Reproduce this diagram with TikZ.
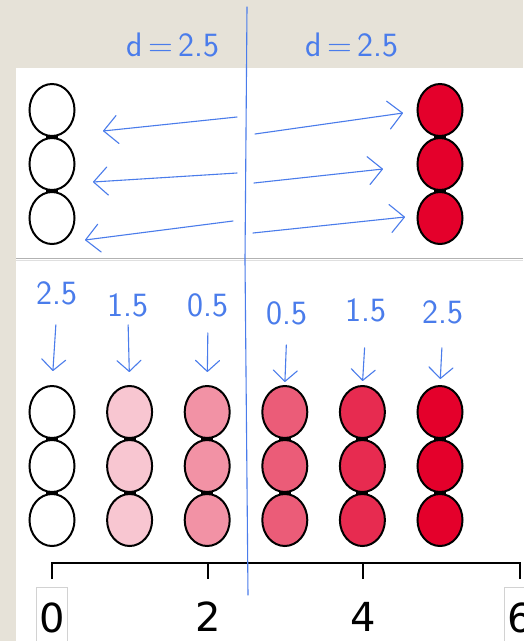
\documentclass[tikz,border=0pt]{standalone}
\usepackage{fontspec}
\setmainfont{DejaVu Sans}
\usepackage{tikz}
\usetikzlibrary{shapes.geometric, arrows.meta, positioning, calc}

\definecolor{paper}{RGB}{230,226,216}
\definecolor{inkblue}{RGB}{74,124,235}
\definecolor{beadA}{RGB}{248,198,209}
\definecolor{beadB}{RGB}{242,146,165}
\definecolor{beadC}{RGB}{235,92,120}
\definecolor{beadD}{RGB}{231,43,80}
\definecolor{beadE}{RGB}{228,0,43}

\tikzset{
  bead/.style={ellipse, draw=black, line width=2pt, minimum width=45pt, minimum height=52pt, inner sep=0pt},
  joint/.style={line width=4pt},
  pen/.style={draw=inkblue, line width=1.1pt, line cap=round, -{Straight Barb[length=14pt,width=28pt,round]}},
  dropcue/.style={pen, -{Straight Barb[length=11pt,width=24pt,round]}},
  note/.style={text=inkblue, inner sep=2pt, font=\sffamily\fontsize{34}{36}\selectfont},
  ticklabel/.style={inner sep=0pt, font=\fontsize{40}{44}\selectfont},
  tickbox/.style={ticklabel, draw=gray!35, line width=1pt, minimum width=31pt, minimum height=60pt, anchor=north}
}

\begin{document}
\begin{tikzpicture}[x=1pt, y=-1pt]
\useasboundingbox (0,0) rectangle (523,641);

% window background
\fill[paper] (0,0) rectangle (523,641);
\fill[white] (16,68) rectangle (523,641);
\draw[gray!60, line width=1.5pt] (16,258.5) -- (523,258.5);
\draw[gray!25, line width=1pt] (16,260.5) -- (523,260.5);

% Top panel: start and end columns
\foreach \r in {1,2,3} {
  \node[bead, fill=white] (s\r) at (52, {56+54*\r}) {};
  \node[bead, fill=beadE] (e\r) at (440, {56+54*\r}) {};
}
\foreach \r in {1,2} {
  \draw[joint] ([xshift=-6pt]s\r.south) -- ([xshift=6pt]s\r.south);
  \draw[joint] ([xshift=-6pt]e\r.south) -- ([xshift=6pt]e\r.south);
}

% Bottom panel: six shades
\foreach \k/\c in {0/white, 1/beadA, 2/beadB, 3/beadC, 4/beadD, 5/beadE} {
  \foreach \r in {1,2,3}
    \node[bead, fill=\c] (b\k\r) at ({52+77.6*\k}, {358+54*\r}) {};
  \foreach \r in {1,2}
    \draw[joint] ([xshift=-6pt]b\k\r.south) -- ([xshift=6pt]b\k\r.south);
}

% axis
\draw[line width=2.5pt] (52,579) -- (52,563) -- (520,563) -- (520,579);
\foreach \x in {208,363}
  \draw[line width=2.5pt] (\x,563) -- (\x,579);
\node[tickbox] (t0) at (52,587) {0};
\node[ticklabel] (t2) at (208,617) {2};
\node[ticklabel] (t4) at (363,617) {4};
\node[tickbox] (t6) at (520,587) {6};

% pen marks
\draw[inkblue, line width=1.1pt, line cap=round] (247,7) -- (245,260) -- (248,595);
\node[note] (dl) at (173,45) {d\,=\,2.5};
\node[note] (dr) at (352,45) {d\,=\,2.5};

\foreach \i/\ax/\ay/\bx/\by in {1/237/117/103/131, 2/237/173/93/182, 3/233/221/85/240,
    4/255/134/403/113, 5/254/183/383/169, 6/253/233/405/217} {
  \coordinate (from\i) at (\ax,\ay);
  \coordinate (to\i) at (\bx,\by);
  \draw[pen] (from\i) -- (to\i);
}

\foreach \k/\x/\y/\v/\sa/\sb in {0/57/293/2.5/18/14, 1/128/305/1.5/6/13, 2/208/305/0.5/14/13,
    3/287/313/0.5/18/3, 4/366/310/1.5/24/4, 5/443/312/2.5/22/6} {
  \node[note] (n\k) at (\x,\y) {\v};
  \draw[dropcue, shorten <=\sa pt, shorten >=\sb pt] (n\k.south) -- (b\k1.north);
}
\end{tikzpicture}
\end{document}
